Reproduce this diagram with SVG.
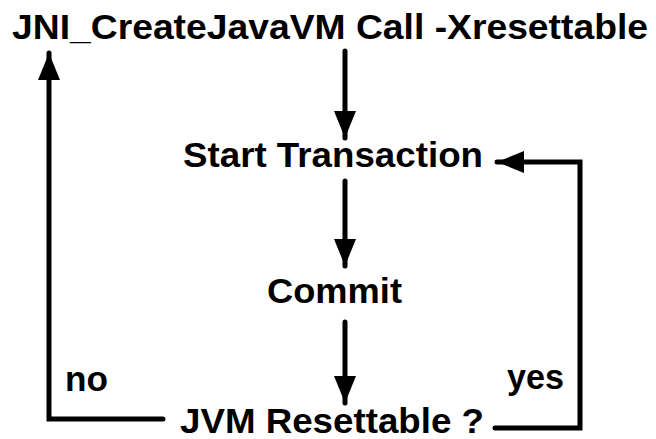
<svg xmlns="http://www.w3.org/2000/svg" width="656" height="439" viewBox="0 0 656 439">
  <style>
    .lbl { font-family: "Liberation Sans", Arial, sans-serif; font-weight: bold; font-size: 35px; fill: #000; }
    .edge { fill: none; stroke: #000; stroke-width: 5; stroke-linecap: round; stroke-linejoin: miter; }
  </style>
  <defs>
    <marker id="head" markerUnits="userSpaceOnUse" markerWidth="30" markerHeight="24" refX="27" refY="11" orient="auto">
      <polygon points="0,0 27,11 0,22" fill="#000"/>
    </marker>
  </defs>
  <rect width="656" height="439" fill="#fff"/>

  <g id="connectors">
    <line class="edge" x1="345" y1="51" x2="345" y2="138" marker-end="url(#head)"/>
    <line class="edge" x1="345" y1="181" x2="345" y2="266" marker-end="url(#head)"/>
    <line class="edge" x1="345" y1="322" x2="345" y2="403" marker-end="url(#head)"/>
    <path class="edge" d="M163,419 H49 V53" marker-end="url(#head)"/>
    <path class="edge" d="M495,428 H580 V162 H497" marker-end="url(#head)"/>
  </g>

  <g id="start">
    <text class="lbl" x="12" y="39" textLength="636" lengthAdjust="spacingAndGlyphs">JNI_CreateJavaVM Call -Xresettable</text>
  </g>
  <g id="transaction">
    <text class="lbl" x="183" y="167" textLength="300" lengthAdjust="spacingAndGlyphs">Start Transaction</text>
  </g>
  <g id="commit">
    <text class="lbl" x="267" y="303" textLength="135" lengthAdjust="spacingAndGlyphs">Commit</text>
  </g>
  <g id="decision">
    <text class="lbl" x="180" y="433" textLength="304" lengthAdjust="spacingAndGlyphs">JVM Resettable ?</text>
  </g>
  <g id="branch-labels">
    <text class="lbl" x="65" y="391" textLength="43" lengthAdjust="spacingAndGlyphs">no</text>
    <text class="lbl" x="507" y="389" textLength="57" lengthAdjust="spacingAndGlyphs">yes</text>
  </g>
</svg>
